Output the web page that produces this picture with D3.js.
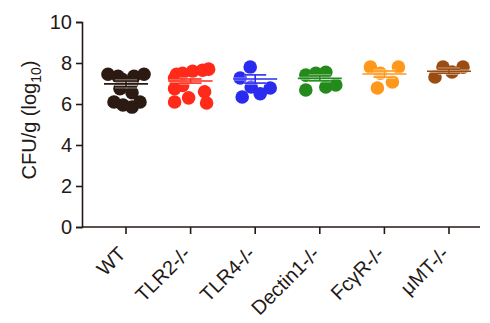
<!DOCTYPE html>
<html>
<head>
<meta charset="utf-8">
<script src="https://cdn.jsdelivr.net/npm/d3@7"></script>
<style>
  html, body { margin: 0; padding: 0; background: #fff; }
  text { font-family: "Liberation Sans", Arial, Helvetica, sans-serif; fill: #231815; }
</style>
</head>
<body>
<svg id="chart" width="490" height="323"></svg>
<script>
// Groups and colours
const groups = ["WT", "TLR2-/-", "TLR4-/-", "Dectin1-/-", "FcγR-/-", "μMT-/-"];
const colors = ["#2a1a12", "#ff2a1a", "#2b2bef", "#238a1b", "#ff981a", "#9a4c12"];

// Per-animal CFU values (log10) for each group
const wtValues      = [7.45, 7.35, 7.35, 7.45, 7.2, 7.05, 6.75, 6.55, 6.1, 5.95, 5.85, 6.1];
const tlr2Values    = [7.5, 7.6, 7.65, 7.7, 7.25, 6.75, 6.6, 6.1, 6.3, 6.05, 6.9, 7.45];
const tlr4Values    = [7.8, 7.27, 6.83, 6.78, 6.34, 6.5];
const dectin1Values = [7.41, 7.5, 7.55, 6.68, 6.83, 6.93];
const fcgrValues    = [7.8, 7.8, 7.5, 7.07, 6.78];
const mumtValues    = [7.32, 7.8, 7.56, 7.8];

// Horizontal spread of the dots within each column (px)
const wtSpread      = [-18, -8, 8, 18, -4, 6, -6, 6, -12, -3, 6, 14];
const tlr2Spread    = [-8, 2, 12, 18, -16, -16, 14, -16, -2, 16, -8, -14];
const tlr4Spread    = [-5, -15, -4, 15, -13, 5];
const dectin1Spread = [-14, -4, 6, -14, 6, 16];
const fcgrSpread    = [-14, 14, -4, 8, -7];
const mumtSpread    = [-14, -6, 3, 14];

// Summary lines: group mean and SEM
const means = [6.98, 7.12, 7.22, 7.25, 7.46, 7.6];
const sems  = [0.14, 0.1, 0.2, 0.12, 0.15, 0.1];

const yTicks = [0, 2, 4, 6, 8, 10];

const allValues = [wtValues, tlr2Values, tlr4Values, dectin1Values, fcgrValues, mumtValues];
const allSpread = [wtSpread, tlr2Spread, tlr4Spread, dectin1Spread, fcgrSpread, mumtSpread];

const svg = d3.select("#chart");
const axisColor = "#231815";

const x = d3.scalePoint().domain(groups).range([126, 449]);
const y = d3.scaleLinear().domain([0, 10]).range([227, 22]);
const left = 82, right = 480;

// Y axis
const yAxis = d3.axisLeft(y).tickValues(yTicks).tickSize(6).tickPadding(4);
const gy = svg.append("g").attr("transform", `translate(${left},0)`).call(yAxis);
gy.select(".domain").attr("stroke", axisColor).attr("stroke-width", 1.6);
gy.selectAll(".tick line").attr("stroke", axisColor).attr("stroke-width", 1.6);
gy.selectAll(".tick text").attr("font-size", 20).style("fill", axisColor)
  .style("font-family", "'Liberation Sans', Arial, sans-serif");

// X axis
const gx = svg.append("g").attr("transform", `translate(0,${y(0)})`);
gx.append("line").attr("x1", left).attr("x2", right).attr("y1", 0).attr("y2", 0)
  .attr("stroke", axisColor).attr("stroke-width", 1.6);
gx.selectAll(".xt").data(groups).join("line")
  .attr("x1", d => x(d)).attr("x2", d => x(d)).attr("y1", 0).attr("y2", 7)
  .attr("stroke", axisColor).attr("stroke-width", 1.6);
gx.selectAll(".xl").data(groups).join("text")
  .attr("transform", d => `translate(${x(d) + 1},${28}) rotate(-45)`)
  .attr("text-anchor", "end")
  .attr("font-size", 20)
  .text(d => d);

// Y label
const yl = svg.append("text")
  .attr("transform", `translate(36,120) rotate(-90)`)
  .attr("text-anchor", "middle")
  .attr("font-size", 20);
yl.append("tspan").text("CFU/g (log");
yl.append("tspan").attr("font-size", 14).attr("dy", 5).text("10");
yl.append("tspan").attr("dy", -5).text(")");

// Dots
groups.forEach((g, i) => {
  const pts = allValues[i].map((v, j) => ({ v, dx: allSpread[i][j] }));
  svg.append("g").selectAll("circle").data(pts).join("circle")
    .attr("cx", d => x(g) + d.dx)
    .attr("cy", d => y(d.v))
    .attr("r", 6.8)
    .attr("fill", colors[i]);
});

// Mean and SEM lines
groups.forEach((g, i) => {
  const cx = x(g), m = means[i], s = sems[i];
  const gg = svg.append("g");
  const segs = [
    [cx - 22, cx + 22, y(m), y(m)],
    [cx - 11, cx + 11, y(m + s), y(m + s)],
    [cx - 11, cx + 11, y(m - s), y(m - s)],
    [cx, cx, y(m + s), y(m - s)]
  ];
  segs.forEach(sg => {
    gg.append("line").attr("x1", sg[0]).attr("x2", sg[1]).attr("y1", sg[2]).attr("y2", sg[3])
      .attr("stroke", "#fff").attr("stroke-opacity", 0.55).attr("stroke-width", 3.2);
  });
  segs.forEach(sg => {
    gg.append("line").attr("x1", sg[0]).attr("x2", sg[1]).attr("y1", sg[2]).attr("y2", sg[3])
      .attr("stroke", colors[i]).attr("stroke-width", 1.6);
  });
});
</script>
</body>
</html>
